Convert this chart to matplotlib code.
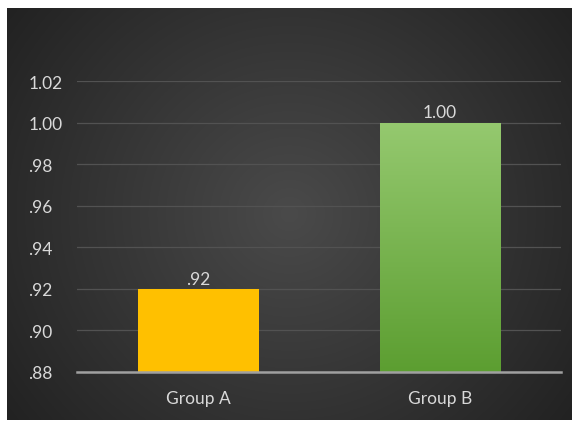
import numpy as np
import matplotlib
matplotlib.use("Agg")
import matplotlib.pyplot as plt
from matplotlib.colors import LinearSegmentedColormap

categories = ["Group A", "Group B"]
values = [0.92, 1.00]
value_labels = [".92", "1.00"]
yticks = [0.88, 0.90, 0.92, 0.94, 0.96, 0.98, 1.00, 1.02]
ytick_labels = [".88", ".90", ".92", ".94", ".96", ".98", "1.00", "1.02"]

plt.rcParams['font.family'] = ['Lato', 'DejaVu Sans']
W, H = 579, 427
dpi = 100
fig = plt.figure(figsize=(W / dpi, H / dpi), dpi=dpi, facecolor='white')

# background with radial gradient
bg = fig.add_axes([7 / W, 6 / H, 565 / W, 412 / H])
bg.set_axis_off()
yy, xx = np.mgrid[-1:1:300j, -1:1:400j]
r = np.sqrt(xx ** 2 + (yy * 0.75) ** 2)
r = np.clip(r / 1.25, 0, 1)
c0 = np.array([0x4a, 0x4a, 0x4a]) / 255
c1 = np.array([0x22, 0x22, 0x22]) / 255
img = c0[None, None, :] * (1 - r[..., None]) + c1[None, None, :] * r[..., None]
bg.imshow(img, aspect='auto', extent=[0, 1, 0, 1])
bg.set_xlim(0, 1)
bg.set_ylim(0, 1)

ax = fig.add_axes([77 / W, 54.3 / H, 484 / W, (372.7 - 82) / H])
ax.set_facecolor('none')
x = np.arange(len(categories))
colors = ['#ffc000', '#70ad47']
bars = ax.bar(x, [v - 0.88 for v in values], bottom=0.88, width=0.5, color=colors, zorder=3)

# gradient for green bar
gcmap = LinearSegmentedColormap.from_list('g', ['#5c9e31', '#95c96f'])
b = bars[1]
grad = np.linspace(0, 1, 256).reshape(-1, 1)
im = ax.imshow(grad, cmap=gcmap, origin='lower', aspect='auto',
               extent=[b.get_x(), b.get_x() + b.get_width(), 0.88, values[1]], zorder=3)
im.set_clip_path(b)

ax.set_xlim(-0.5, 1.5)
ax.set_ylim(0.88, 1.02)
ax.set_yticks(yticks)
ax.set_yticklabels(ytick_labels)
ax.set_xticks(x)
ax.set_xticklabels(categories)
for s in ['top', 'right', 'left']:
    ax.spines[s].set_visible(False)
ax.spines['bottom'].set_color('#a0a0a0')
ax.spines['bottom'].set_linewidth(1.8)
ax.spines['bottom'].set_zorder(4)
ax.grid(axis='y', color='#525252', linewidth=0.9, zorder=0)
ax.set_axisbelow(True)
ax.tick_params(axis='both', length=0, colors='#d9d9d9', labelsize=12.5)
ax.tick_params(axis='y', pad=35)
ax.tick_params(axis='x', pad=13)
for t in ax.get_yticklabels():
    t.set_horizontalalignment('left')

for xi, v, lab in zip(x, values, value_labels):
    ax.annotate(lab, (xi, v), xytext=(0, 1.5), textcoords='offset points',
                ha='center', va='bottom', color='#d9d9d9', fontsize=12.5, zorder=5)

fig.savefig('out.png', dpi=dpi, facecolor='white')
